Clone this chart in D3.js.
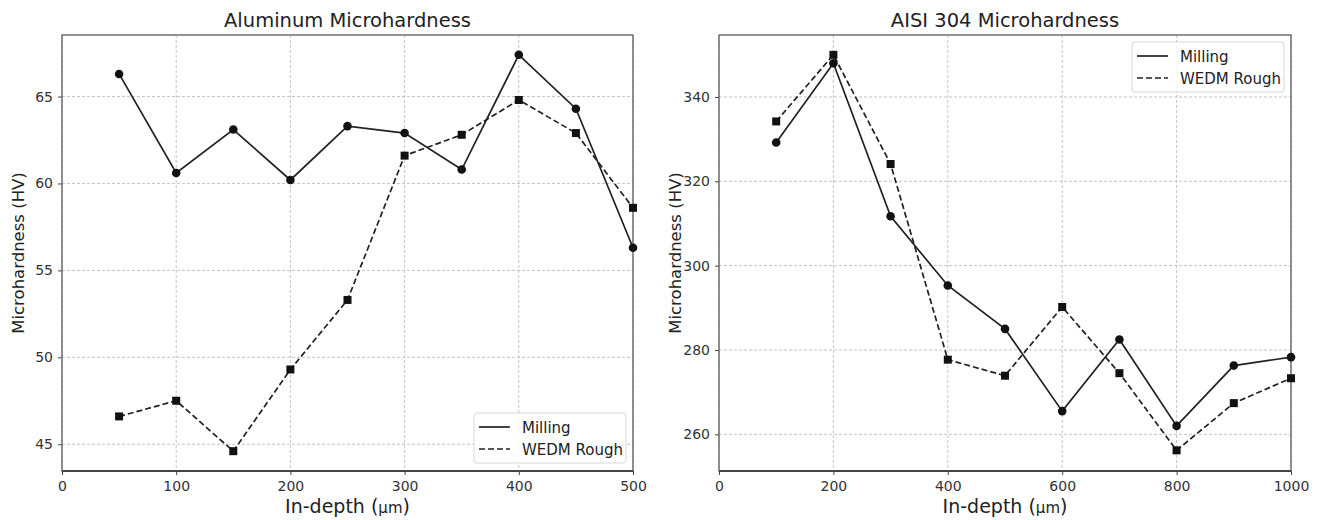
<!DOCTYPE html>
<html>
<head>
<meta charset="utf-8">
<script src="https://cdn.jsdelivr.net/npm/d3@7"></script>
<style>
  body { margin: 0; background: #fff; }
  svg { font-family: "DejaVu Sans", sans-serif; }
</style>
</head>
<body>
<svg id="chart" width="1320" height="520"></svg>
<script>
// ---- data ----
var alDepth = [50, 100, 150, 200, 250, 300, 350, 400, 450, 500];
var alMilling = [66.3, 60.6, 63.1, 60.2, 63.3, 62.9, 60.8, 67.4, 64.3, 56.3];
var alWedm = [46.6, 47.5, 44.6, 49.3, 53.3, 61.6, 62.8, 64.8, 62.9, 58.6];
var alXTicks = [0, 100, 200, 300, 400, 500];
var alYTicks = [45, 50, 55, 60, 65];

var ssDepth = [100, 200, 300, 400, 500, 600, 700, 800, 900, 1000];
var ssMilling = [329.2, 348.0, 311.7, 295.3, 285.0, 265.5, 282.5, 262.0, 276.3, 278.3];
var ssWedm = [334.2, 350.0, 324.1, 277.7, 273.9, 290.2, 274.5, 256.2, 267.4, 273.3];
var ssXTicks = [0, 200, 400, 600, 800, 1000];
var ssYTicks = [260, 280, 300, 320, 340];

var seriesNames = ["Milling", "WEDM Rough"];

var svg = d3.select("#chart");
var textColor = "#333";
var dashes = "6,3";

// one panel: frame box, grid, axes, two lines with markers, legend
function drawPanel(p) {
    var x = d3.scaleLinear().domain(p.xDomain).range([p.left, p.right]);
    var y = d3.scaleLinear().domain(p.yDomain).range([p.bottom, p.top]);
    var g = svg.append("g");

    // grid
    g.selectAll(".vgrid").data(p.xTicks).enter().append("line")
        .attr("x1", d => x(d)).attr("x2", d => x(d))
        .attr("y1", p.top).attr("y2", p.bottom)
        .style("stroke", "#bdbdbd").style("stroke-width", 0.9)
        .style("stroke-dasharray", "3,2");
    g.selectAll(".hgrid").data(p.yTicks).enter().append("line")
        .attr("x1", p.left).attr("x2", p.right)
        .attr("y1", d => y(d)).attr("y2", d => y(d))
        .style("stroke", "#bdbdbd").style("stroke-width", 0.9)
        .style("stroke-dasharray", "3,2");

    // axes
    var xAxis = d3.axisBottom(x).tickValues(p.xTicks).tickFormat(d3.format("d"))
        .tickSize(4).tickPadding(6);
    g.append("g")
        .attr("transform", "translate(0," + p.bottom + ")")
        .call(xAxis)
        .call(a => a.select(".domain").remove())
        .call(a => a.selectAll(".tick line").style("stroke", "#444"))
        .call(a => a.selectAll(".tick text").style("font-size", "14px").style("fill", textColor)
            .style("font-family", "DejaVu Sans"));

    var yAxis = d3.axisLeft(y).tickValues(p.yTicks).tickSize(4).tickPadding(5);
    g.append("g")
        .attr("transform", "translate(" + p.left + ",0)")
        .call(yAxis)
        .call(a => a.select(".domain").remove())
        .call(a => a.selectAll(".tick line").style("stroke", "#444"))
        .call(a => a.selectAll(".tick text").style("font-size", "14px").style("fill", textColor)
            .style("font-family", "DejaVu Sans"));

    // frame
    g.append("rect")
        .attr("x", p.left).attr("y", p.top)
        .attr("width", p.right - p.left).attr("height", p.bottom - p.top)
        .style("fill", "none").style("stroke", "#666").style("stroke-width", 1.4);
    g.append("line")
        .attr("x1", p.left).attr("x2", p.right)
        .attr("y1", p.bottom).attr("y2", p.bottom)
        .style("stroke", "#444").style("stroke-width", 2);

    // lines
    var line = d3.line().x(d => x(d[0])).y(d => y(d[1]));
    var milling = p.depth.map((d, i) => [d, p.milling[i]]);
    var wedm = p.depth.map((d, i) => [d, p.wedm[i]]);

    g.append("path").datum(wedm).attr("d", line)
        .style("fill", "none").style("stroke", "#222").style("stroke-width", 1.7)
        .style("stroke-dasharray", dashes);
    g.append("path").datum(milling).attr("d", line)
        .style("fill", "none").style("stroke", "#222").style("stroke-width", 1.7);

    g.selectAll(".sq").data(wedm).enter().append("rect")
        .attr("x", d => x(d[0]) - 4).attr("y", d => y(d[1]) - 4)
        .attr("width", 8).attr("height", 8)
        .style("fill", "#111");
    g.selectAll(".dot").data(milling).enter().append("circle")
        .attr("cx", d => x(d[0])).attr("cy", d => y(d[1]))
        .attr("r", 4.3)
        .style("fill", "#111");

    // title
    g.append("text")
        .attr("x", (p.left + p.right) / 2).attr("y", p.top - 8)
        .attr("text-anchor", "middle")
        .style("font-size", "19.5px").style("fill", "#222")
        .text(p.title);

    // axis labels
    var xl = g.append("text")
        .attr("x", (p.left + p.right) / 2).attr("y", p.bottom + 42)
        .attr("text-anchor", "middle")
        .style("font-size", "19px").style("fill", "#222");
    xl.append("tspan").text("In-depth (");
    xl.append("tspan").style("font-size", "15px").text("μm");
    xl.append("tspan").text(")");

    g.append("text")
        .attr("transform", "translate(" + (p.left - 38) + "," + ((p.top + p.bottom) / 2) + ") rotate(-90)")
        .attr("text-anchor", "middle")
        .style("font-size", "16.5px").style("fill", "#222")
        .text("Microhardness (HV)");

    // legend
    var lg = g.append("g").attr("transform", "translate(" + p.legend[0] + "," + p.legend[1] + ")");
    lg.append("rect")
        .attr("width", 152).attr("height", 50).attr("rx", 3)
        .style("fill", "#fff").style("fill-opacity", 0.85)
        .style("stroke", "#d8d8d8").style("stroke-width", 1);
    seriesNames.forEach(function (name, i) {
        var yy = 14 + i * 22;
        lg.append("line")
            .attr("x1", 5).attr("x2", 36).attr("y1", yy).attr("y2", yy)
            .style("stroke", "#222").style("stroke-width", 1.7)
            .style("stroke-dasharray", i == 1 ? dashes : null);
        lg.append("text")
            .attr("x", 48).attr("y", yy + 5.5)
            .style("font-size", "15px").style("fill", "#222")
            .text(name);
    });
}

drawPanel({
    title: "Aluminum Microhardness",
    left: 62, right: 633, top: 35, bottom: 471,
    xDomain: [0, 500], yDomain: [43.46, 68.54],
    xTicks: alXTicks, yTicks: alYTicks,
    depth: alDepth, milling: alMilling, wedm: alWedm,
    legend: [474, 413]
});

drawPanel({
    title: "AISI 304 Microhardness",
    left: 719, right: 1291, top: 35, bottom: 471,
    xDomain: [0, 1000], yDomain: [251.3, 354.7],
    xTicks: ssXTicks, yTicks: ssYTicks,
    depth: ssDepth, milling: ssMilling, wedm: ssWedm,
    legend: [1132, 42]
});
</script>
</body>
</html>
